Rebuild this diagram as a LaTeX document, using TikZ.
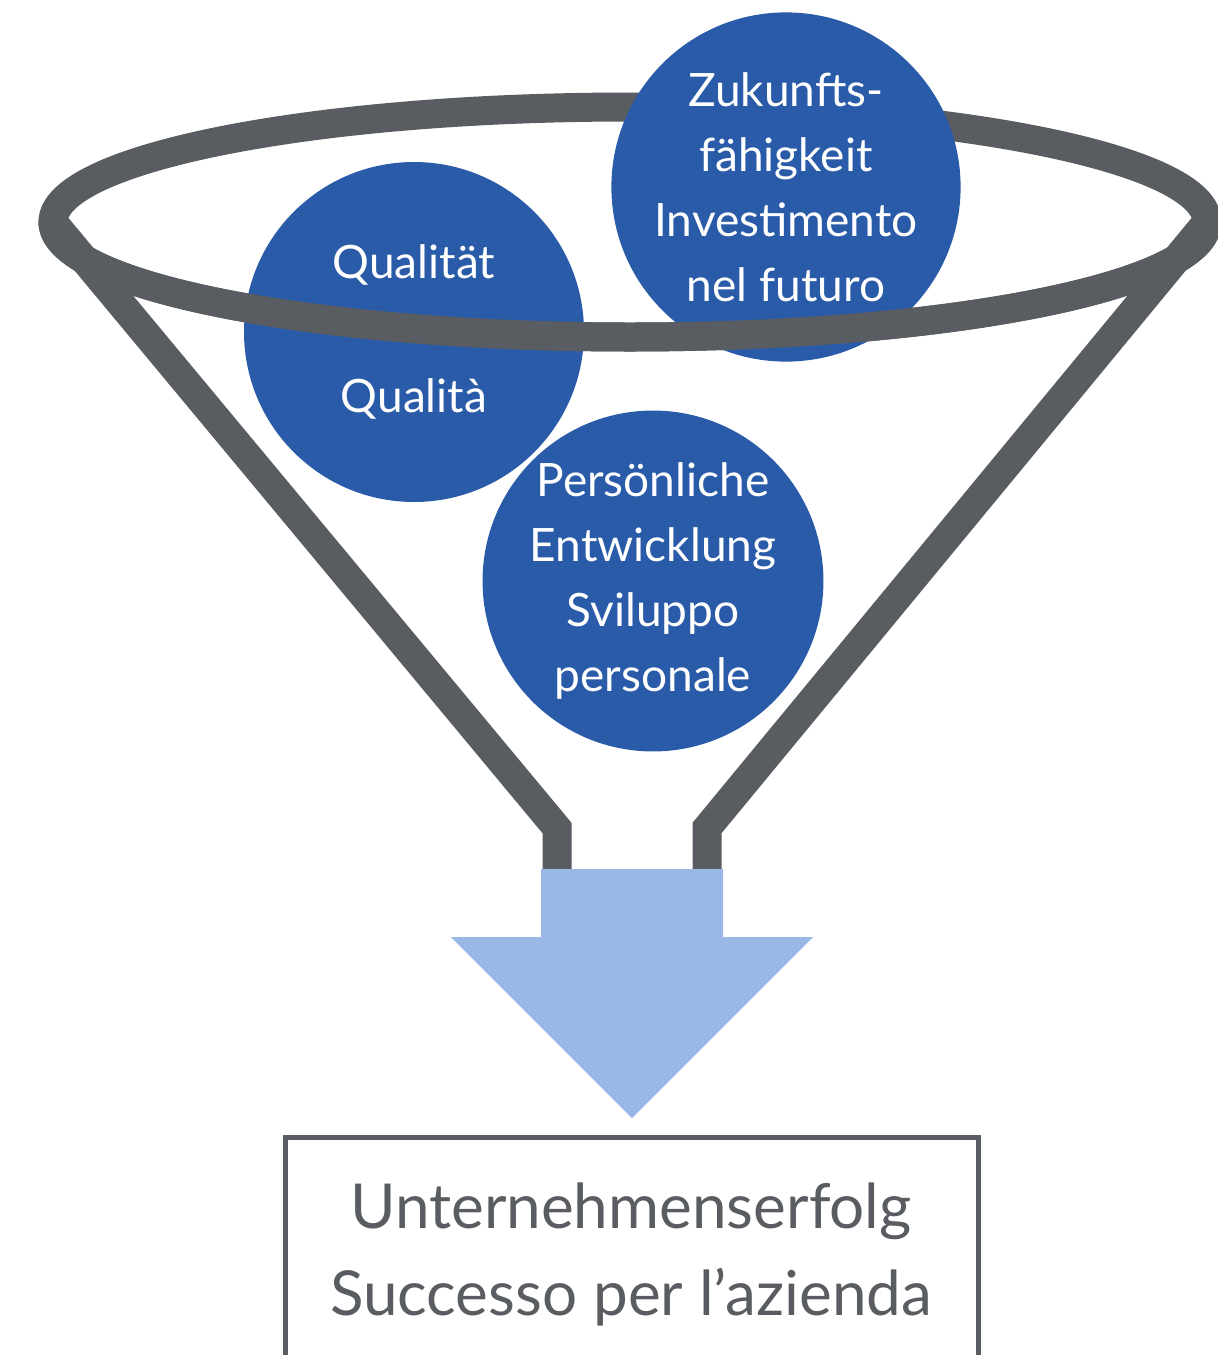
\documentclass[tikz,border=0pt]{standalone}
\usepackage{xcolor}
\usepackage{tikz}
\usepackage{fontspec}
\setmainfont{Lato}
\definecolor{funnelgrey}{RGB}{89,93,97}
\definecolor{ballblue}{RGB}{42,91,168}
\definecolor{flowblue}{RGB}{154,184,230}

\begin{document}
\begin{tikzpicture}[x=1pt,y=-1pt,
      ball/.style={circle,fill=ballblue,minimum size=340pt,inner sep=0pt,text=white,align=center,font=\fontsize{46}{65}\selectfont},
      rim/.style={color=funnelgrey,line width=29pt,line join=miter}]
         \useasboundingbox (0,0) rectangle (1218,1355);
         \node[ball] (Q) at (414,332) {Qualität\\[69pt]Qualità};
         \node[ball] (P) at (653,581) {Persönliche\\Entwicklung\\Sviluppo\\personale};
         \draw[rim] (630,222) ellipse [x radius=577pt, y radius=115pt];
         \node[ball] (Z) at (786,187) {Zukunfts-\\fähigkeit\\Investimento\\nel futuro};
         \draw[rim] (53,222) arc [start angle=180, end angle=360, x radius=577pt, y radius=115pt];
         \draw[rim][line cap=round] (53,222) -- (557,828) -- (557,870);
         \draw[rim][line cap=round] (1207,222) -- (707,828) -- (707,870);
         \fill[flowblue] (541,869) -- (723,869) -- (723,937) -- (813,937) -- (632,1118) -- (451,937) -- (541,937) -- cycle;
         \draw[color=funnelgrey][line width=5pt] (285,1137) rectangle (978,1420);
         \node[color=funnelgrey][align=center][font=\fontsize{62}{87}\selectfont] (E) at (631,1254) {Unternehmenserfolg\\Successo per l’azienda};
      \end{tikzpicture}
\end{document}
